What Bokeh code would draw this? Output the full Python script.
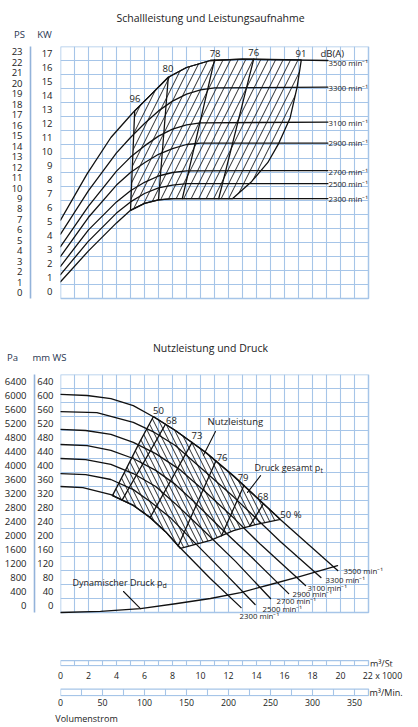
from bokeh.plotting import figure
from bokeh.models import Range1d, LinearAxis, FixedTicker, Label
from bokeh.layouts import column
from bokeh.embed import file_html
from bokeh.resources import INLINE

FONT = "Open Sans"
TXT = "#222222"
HDR = "#27354f"
INK = "#111111"
GRID = "#a6c5e8"
AXLINE = "#93b3da"
W = 418

# ---------------- top chart: power uptake (KW) vs flow (x1000 m3/h) ----------------
kw_ticks = [0, 1, 2, 3, 4, 5, 6, 7, 8, 9, 10, 11, 12, 13, 14, 15, 16, 17]
ps_ticks = [0, 1, 2, 3, 4, 5, 6, 7, 8, 9, 10, 11, 12, 13, 14, 15, 16, 17, 18, 19, 20, 21, 22, 23]

kw3500_x = [0, 1.9, 3.6, 5.2, 6.5, 7.7, 9.0, 10.7, 13.0, 19.1]
kw3500_y = [5.1, 8.4, 11.0, 12.8, 14.1, 15.3, 16.0, 16.5, 16.6, 16.5]
kw3300_x = [0, 2, 4, 5, 6, 7, 8, 9, 10, 11, 19.1]
kw3300_y = [4.1, 7.2, 9.9, 11.0, 12.0, 12.9, 13.6, 14.1, 14.4, 14.55, 14.6]
kw3100_x = [0, 2, 4, 5, 6, 7, 8, 9, 10, 19.1]
kw3100_y = [3.2, 6.1, 8.6, 9.6, 10.4, 11.1, 11.6, 11.9, 12.05, 12.1]
kw2900_x = [0, 2, 4, 5, 6, 7, 8, 9, 10, 19.1]
kw2900_y = [2.5, 5.3, 7.6, 8.5, 9.2, 9.8, 10.2, 10.5, 10.6, 10.6]
kw2700_x = [0, 2, 4, 5, 6, 7, 8, 9, 19.1]
kw2700_y = [1.8, 4.4, 6.4, 7.2, 7.8, 8.25, 8.5, 8.62, 8.64]
kw2500_x = [0, 2, 4, 5, 6, 7, 8, 9, 19.1]
kw2500_y = [1.2, 3.6, 5.6, 6.4, 7.0, 7.4, 7.6, 7.7, 7.7]
kw2300_x = [0, 2, 4, 5, 6, 7, 8, 19.1]
kw2300_y = [0.7, 2.9, 4.9, 5.8, 6.3, 6.55, 6.64, 6.64]

top_rpm_labels = ["3500 min⁻¹", "3300 min⁻¹", "3100 min⁻¹", "2900 min⁻¹", "2700 min⁻¹", "2500 min⁻¹", "2300 min⁻¹"]
top_rpm_label_y = [16.3, 14.57, 12.0, 10.64, 8.57, 7.71, 6.64]

hatch_top_x = [5.0, 5.3, 6.5, 7.7, 9.0, 10.7, 13.0, 17.2, 16.9, 16.4, 15.6, 14.8, 13.6, 12.3, 8.0, 7.0, 6.0, 5.0]
hatch_top_y = [5.8, 12.9, 14.1, 15.3, 16.0, 16.5, 16.6, 16.55, 14.6, 12.4, 10.6, 9.2, 7.8, 6.64, 6.64, 6.55, 6.3, 5.8]

db80_x = [7.0, 7.7]
db80_y = [6.55, 15.3]
db78_x = [8.7, 11.0]
db78_y = [6.64, 16.55]
db76_x = [11.3, 13.8]
db76_y = [6.64, 16.6]
db_labels = ["96", "80", "78", "76", "91"]
db_label_x = [5.32, 7.68, 11.04, 13.8, 17.18]
db_label_y = [13.79, 15.93, 17.0, 17.07, 17.0]

# ---------------- bottom chart: total pressure (mm WS) vs flow ----------------
mmws_ticks = [0, 40, 80, 120, 160, 200, 240, 280, 320, 360, 400, 440, 480, 520, 560, 600, 640]
pa_ticks = [0, 400, 800, 1200, 1600, 2000, 2400, 2800, 3200, 3600, 4000, 4400, 4800, 5200, 5600, 6000, 6400]

p3500_x = [0, 1.9, 3.6, 5.2, 6.6, 8.2, 10.4, 12.4, 15.7, 19.8]
p3500_y = [603, 600, 591, 571, 540, 500, 437, 369, 246, 100]
p3300_x = [0, 2.6, 5.2, 6.6, 8.2, 10.4, 12.4, 15.7, 18.6]
p3300_y = [554, 551, 523, 497, 457, 380, 309, 183, 80]
p3100_x = [0, 1.8, 3.6, 5.2, 6.8, 8.6, 10.4, 12.4, 14.3, 17.5]
p3100_y = [503, 500, 489, 466, 434, 386, 323, 249, 174, 57]
p2900_x = [0, 1.9, 3.6, 5.2, 6.8, 8.2, 9.6, 11.4, 13.6, 16.3]
p2900_y = [460, 457, 443, 420, 386, 346, 294, 223, 140, 34]
p2700_x = [0, 1.8, 3.6, 5.2, 6.8, 8.2, 10.0, 12.5, 15.0]
p2700_y = [420, 417, 403, 377, 340, 291, 223, 126, 20]
p2500_x = [0, 1.8, 3.6, 5.2, 6.4, 7.9, 9.3, 11.4, 13.9]
p2500_y = [377, 374, 360, 331, 297, 249, 191, 106, 3]
p2300_x = [0, 1.6, 3.6, 5.2, 6.4, 7.5, 8.6, 10.7, 12.9]
p2300_y = [340, 337, 317, 286, 251, 211, 163, 77, -6]

bot_rpm_labels = ["3500 min⁻¹", "3300 min⁻¹", "3100 min⁻¹", "2900 min⁻¹", "2700 min⁻¹", "2500 min⁻¹", "2300 min⁻¹"]
bot_rpm_label_x = [20.21, 18.93, 17.64, 16.57, 15.43, 14.43, 12.79]
bot_rpm_label_y = [100, 74, 51, 34, 14, -9, -29]

pd_x = [0, 2.86, 5.71, 8.21, 10.71, 12.86, 15.0, 17.14, 19.79]
pd_y = [-20, -17, -9, 5, 20, 37, 60, 83, 114]

hatch_bot_x = [6.64, 8.21, 10.36, 12.36, 15.71, 13.93, 12.36, 10.71, 8.57, 7.5, 6.43, 5.21, 3.71, 4.64, 5.71]
hatch_bot_y = [540, 500, 437, 369, 246, 231, 214, 186, 163, 211, 251, 286, 314, 386, 471]

eta68_x = [4.4, 7.5]
eta68_y = [301, 518]
eta73_x = [6.4, 9.4]
eta73_y = [251, 466]
eta76_x = [8.4, 11.1]
eta76_y = [170, 413]
eta79_x = [11.5, 13.1]
eta79_y = [199, 343]
eta68b_x = [13.5, 14.5]
eta68b_y = [226, 291]
eta_labels = ["50", "68", "73", "76", "79", "68", "50 %"]
eta_label_x = [7.0, 7.93, 9.75, 11.54, 13.04, 14.46, 16.46]
eta_label_y = [557, 529, 486, 423, 366, 311, 260]

ptr_nutz_x = [11.07, 10.21]
ptr_nutz_y = [497, 429]
ptr_druck_x = [14.29, 13.36]
ptr_druck_y = [371, 323]
ptr_dyn_x = [4.5, 5.71]
ptr_dyn_y = [40, -9]

# ---------------- flow scales ----------------
flow_h_ticks = [0, 2, 4, 6, 8, 10, 12, 14, 16, 18, 20]
flow_h_max = 22
flow_min_ticks = [0, 50, 100, 150, 200, 250, 300, 350]
flow_min_max = 22000 / 60.0

PX_X = 14.0                      # pixels per 1000 m3/h
X_END = (W - 60) / PX_X          # flow value at right canvas edge


def blank_fig(height, x_range, y_range, left=60, bottom=0):
    p = figure(width=W, height=height, x_range=x_range, y_range=y_range,
               x_axis_location=None, y_axis_location=None,
               min_border_left=left, min_border_right=0,
               min_border_top=0, min_border_bottom=bottom,
               output_backend="svg", toolbar_location=None)
    p.outline_line_color = None
    p.xgrid.visible = False
    p.ygrid.visible = False
    return p


def style_axis(ax, standoff, size="9.5px", line_color=None):
    ax.major_tick_line_color = None
    ax.minor_tick_line_color = None
    ax.major_tick_out = 0
    ax.major_tick_in = 0
    ax.axis_line_color = line_color
    ax.axis_line_width = 1.6
    ax.major_label_standoff = standoff
    ax.major_label_text_font = FONT
    ax.major_label_text_font_size = size
    ax.major_label_text_color = TXT


def lab(p, x, y, text, size="9px", align="center", baseline="middle", color=TXT):
    p.add_layout(Label(x=x, y=y, text=text, text_font=FONT, text_font_size=size,
                       text_align=align, text_baseline=baseline, text_color=color))


def curve(p, xs, ys, color=INK, width=1.3):
    p.line(xs, ys, line_color=color, line_width=width, line_join="round", line_cap="round")


def chart_grid(p, xs_v, y0, y1, ys_h, x0, x1):
    p.segment(x0=xs_v, y0=[y0] * len(xs_v), x1=xs_v, y1=[y1] * len(xs_v),
              line_color=GRID, line_width=1.1)
    p.segment(x0=[x0] * len(ys_h), y0=ys_h, x1=[x1] * len(ys_h), y1=ys_h,
              line_color=GRID, line_width=1.1)
    p.quad(left=[x0], right=[x1], bottom=[y0], top=[y1], fill_color=None,
           line_color=GRID, line_width=1.5)


def free_frame(p):
    try:
        p.frame_align = False
    except Exception:
        pass


# ======== strip with title and column headers (top chart) ========
sa = blank_fig(46, Range1d(0, W), Range1d(46, 0), left=0)
free_frame(sa)
lab(sa, 210, 17, "Schallleistung und Leistungsaufnahme", size="10.5px")
lab(sa, 19, 34, "PS", size="9.5px", color=HDR)
lab(sa, 44, 34, "KW", size="9.5px", color=HDR)

# ======== top chart ========
pa = blank_fig(284, Range1d(0, X_END), Range1d(-2.786, 17.5))
pa.extra_y_ranges = {"ps": Range1d(-3.593, 23.5)}
kw_axis = LinearAxis(ticker=FixedTicker(ticks=kw_ticks))
style_axis(kw_axis, 8)
kw_axis.axis_label = "\u00a0"
kw_axis.axis_label_standoff = 0
kw_axis.axis_label_text_font_size = "4px"
pa.add_layout(kw_axis, "left")
ps_axis = LinearAxis(y_range_name="ps", ticker=FixedTicker(ticks=ps_ticks), bounds=(-0.54, 23.5))
style_axis(ps_axis, 8, line_color=AXLINE)
pa.add_layout(ps_axis, "left")

chart_grid(pa, [k for k in range(1, 22)], -0.5, 17.5, [k + 0.5 for k in range(17)], 0, flow_h_max)

pa.patch(hatch_top_x, hatch_top_y, fill_color=None, line_color=INK, line_width=1.3,
         hatch_pattern="right_diagonal_line", hatch_color=INK, hatch_weight=0.9, hatch_scale=15)
for xs, ys in [(kw3500_x, kw3500_y), (kw3300_x, kw3300_y), (kw3100_x, kw3100_y), (kw2900_x, kw2900_y),
               (kw2700_x, kw2700_y), (kw2500_x, kw2500_y), (kw2300_x, kw2300_y),
               (db80_x, db80_y), (db78_x, db78_y), (db76_x, db76_y)]:
    curve(pa, xs, ys)

for t, x, y in zip(db_labels, db_label_x, db_label_y):
    lab(pa, x, y, t, size="9.5px")
lab(pa, 18.57, 17.0, "dB(A)", size="9.5px", align="left")
for t, y in zip(top_rpm_labels, top_rpm_label_y):
    lab(pa, 19.14, y, t, size="7.8px", align="left")

# ======== strip with title and column headers (bottom chart) ========
sb = blank_fig(44, Range1d(0, W), Range1d(374, 330), left=0)
free_frame(sb)
lab(sb, 210, 347, "Nutzleistung und Druck", size="10.5px")
lab(sb, 12, 357, "Pa", size="9.5px", color=HDR)
lab(sb, 49, 357, "mm WS", size="9.5px", color=HDR)

# ======== bottom chart ========
pb = blank_fig(276, Range1d(0, X_END), Range1d(-128.57, 660))
pb.extra_y_ranges = {"pa": Range1d(-1285.7, 6600)}
mm_axis = LinearAxis(ticker=FixedTicker(ticks=mmws_ticks))
style_axis(mm_axis, 7)
pb.add_layout(mm_axis, "left")
pa_axis = LinearAxis(y_range_name="pa", ticker=FixedTicker(ticks=pa_ticks), bounds=(-200, 6600))
style_axis(pa_axis, 8, line_color=AXLINE)
pb.add_layout(pa_axis, "left")

chart_grid(pb, [k for k in range(1, 22)], -20, 660, [20 + 40 * k for k in range(16)], 0, flow_h_max)

pb.patch(hatch_bot_x, hatch_bot_y, fill_color=None, line_color=INK, line_width=1.3,
         hatch_pattern="left_diagonal_line", hatch_color=INK, hatch_weight=0.9, hatch_scale=11)
for xs, ys in [(p3500_x, p3500_y), (p3300_x, p3300_y), (p3100_x, p3100_y), (p2900_x, p2900_y),
               (p2700_x, p2700_y), (p2500_x, p2500_y), (p2300_x, p2300_y), (pd_x, pd_y),
               (eta68_x, eta68_y), (eta73_x, eta73_y), (eta76_x, eta76_y), (eta79_x, eta79_y),
               (eta68b_x, eta68b_y)]:
    curve(pb, xs, ys)
for xs, ys in [(ptr_nutz_x, ptr_nutz_y), (ptr_druck_x, ptr_druck_y), (ptr_dyn_x, ptr_dyn_y)]:
    curve(pb, xs, ys, width=1.1)

for t, x, y in zip(eta_labels, eta_label_x, eta_label_y):
    lab(pb, x, y, t, size="9.5px")
for t, x, y in zip(bot_rpm_labels, bot_rpm_label_x, bot_rpm_label_y):
    lab(pb, x, y, t, size="7.8px", align="left")
lab(pb, 10.5, 526, "Nutzleistung", size="9.5px", align="left")
lab(pb, 13.86, 394, "Druck gesamt p", size="9px", align="left")
lab(pb, 18.57, 385.7, "t", size="7px", align="left")
lab(pb, 0.86, 66, "Dynamischer Druck p", size="9px", align="left")
lab(pb, 7.29, 57, "d", size="7px", align="left")

# ======== flow scale m3/h ========
pc = blank_fig(34, Range1d(0, X_END), Range1d(-1, 18), bottom=15)
pc.quad(left=[0], right=[flow_h_max], bottom=[0], top=[6], fill_color=None, line_color=GRID, line_width=1.3)
pc.segment(x0=[k for k in range(1, 22)], y0=[0] * 21, x1=[k for k in range(1, 22)], y1=[6] * 21,
           line_color=GRID, line_width=1.1)
fh_axis = LinearAxis(ticker=FixedTicker(ticks=flow_h_ticks + [23]), major_label_overrides={23: "22 x 1000"})
style_axis(fh_axis, 3, size="8.8px")
pc.add_layout(fh_axis, "below")
lab(pc, 22.1, 3, "m³/St", size="9px", align="left")

# ======== flow scale m3/min ========
FM_END = flow_min_max * (W - 60) / 308.0
pdm = blank_fig(43, Range1d(0, FM_END), Range1d(-1, 12), bottom=30)
pdm.quad(left=[0], right=[flow_min_max], bottom=[0], top=[7], fill_color=None, line_color=GRID, line_width=1.3)
fm_grid = [25 * k for k in range(1, 15)]
pdm.segment(x0=fm_grid, y0=[0] * len(fm_grid), x1=fm_grid, y1=[7] * len(fm_grid),
            line_color=GRID, line_width=1.1)
fm_axis = LinearAxis(ticker=FixedTicker(ticks=flow_min_ticks))
style_axis(fm_axis, 2, size="8.8px")
pdm.add_layout(fm_axis, "below")
vol_axis = LinearAxis(ticker=FixedTicker(ticks=[31]), major_label_overrides={31: "Volumenstrom"})
style_axis(vol_axis, 3, size="9px")
pdm.add_layout(vol_axis, "below")
lab(pdm, 367.9, 3.5, "m³/Min.", size="9px", align="left")

layout = column(sa, pa, sb, pb, pc, pdm)
open("out.html", "w").write(file_html(layout, INLINE))
